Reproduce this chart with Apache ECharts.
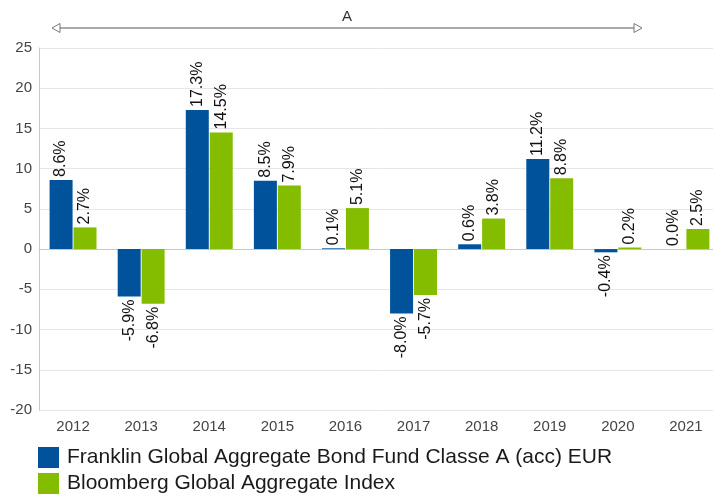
<!DOCTYPE html>
<html>
<head>
<meta charset="utf-8">
<script src="https://cdn.jsdelivr.net/npm/echarts@6/dist/echarts.min.js"></script>
<style>
  html, body { margin: 0; padding: 0; background: #fff; }
</style>
</head>
<body>
<div id="main" style="width: 713px; height: 496px;"></div>
<script>
const years = ["2012", "2013", "2014", "2015", "2016", "2017", "2018", "2019", "2020", "2021"];
const fundName = "Franklin Global Aggregate Bond Fund Classe A (acc) EUR";
const indexName = "Bloomberg Global Aggregate Index";
const fundValues = [8.6, -5.9, 17.3, 8.5, 0.1, -8.0, 0.6, 11.2, -0.4, 0.0];
const indexValues = [2.7, -6.8, 14.5, 7.9, 5.1, -5.7, 3.8, 8.8, 0.2, 2.5];

// positive -> label above bar, negative -> below, text reading upward
function withLabels(values) {
  return values.map(function (v) {
    const neg = v < 0;
    return {
      value: v,
      label: {
        position: neg ? "bottom" : "top",
        align: neg ? "right" : "left"
      }
    };
  });
}

const barLabel = {
  show: true,
  rotate: 90,
  verticalAlign: "middle",
  distance: 3,
  fontFamily: "Liberation Sans",
  fontSize: 16,
  color: "#111",
  formatter: function (p) { return p.value.toFixed(1) + "%"; }
};

let myChart = echarts.init(document.getElementById("main"));
myChart.setOption({
  animation: false,
  textStyle: { fontFamily: "Liberation Sans" },
  // plot area runs a bit past the right edge, like the reference crop
  grid: { left: 39, top: 48, width: 681, height: 362, outerBoundsMode: "none", containLabel: false },
  legend: {
    orient: "vertical",
    left: 38,
    top: 447,
    height: 50,
    padding: 0,
    itemWidth: 21,
    itemHeight: 21,
    itemGap: 5,
    icon: "rect",
    textStyle: {
      fontSize: 21,
      lineHeight: 21,
      padding: [0, 0, 0, 3],
      color: "#1a1a1a",
      fontFamily: "Liberation Sans"
    },
    data: [fundName, indexName]
  },
  xAxis: {
    type: "category",
    data: years,
    axisTick: { show: false },
    axisLine: { lineStyle: { color: "#c8c8c8" } },
    axisLabel: { fontSize: 15, color: "#444", margin: 9 }
  },
  yAxis: {
    type: "value",
    min: -20,
    max: 25,
    interval: 5,
    axisLine: { show: true, lineStyle: { color: "#c8c8c8" } },
    axisTick: { show: false },
    splitLine: { lineStyle: { color: "#e6e6e6" } },
    axisLabel: { fontSize: 15, color: "#444", margin: 7 }
  },
  series: [
    {
      name: fundName,
      type: "bar",
      barWidth: 23,
      barGap: "4%",
      itemStyle: { color: "#00539b" },
      label: barLabel,
      data: withLabels(fundValues)
    },
    {
      name: indexName,
      type: "bar",
      barWidth: 23,
      itemStyle: { color: "#84bd00" },
      label: barLabel,
      data: withLabels(indexValues)
    }
  ],
  graphic: [
    {
      type: "line",
      shape: { x1: 59, y1: 28, x2: 635, y2: 28 },
      style: { stroke: "#555", lineWidth: 1 }
    },
    {
      type: "polygon",
      shape: { points: [[52, 28], [60, 23.5], [60, 32.5]] },
      style: { fill: "#fff", stroke: "#777", lineWidth: 1 }
    },
    {
      type: "polygon",
      shape: { points: [[642, 28], [634, 23.5], [634, 32.5]] },
      style: { fill: "#fff", stroke: "#777", lineWidth: 1 }
    },
    {
      type: "text",
      x: 347,
      y: 17,
      style: {
        text: "A",
        fontSize: 15,
        fontFamily: "Liberation Sans",
        fill: "#333",
        align: "center",
        verticalAlign: "middle"
      }
    }
  ]
});
</script>
</body>
</html>
